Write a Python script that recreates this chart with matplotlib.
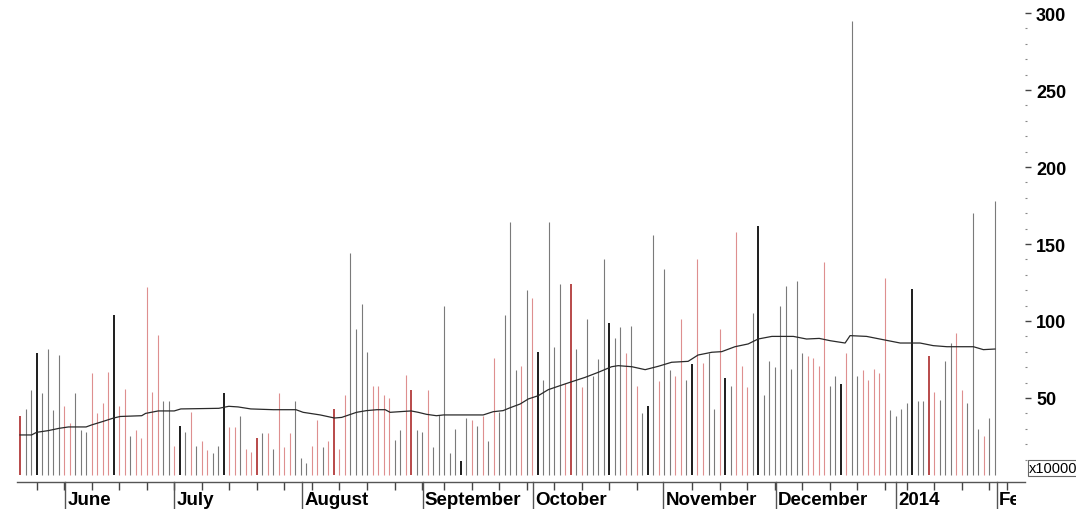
import matplotlib.pyplot as plt
import numpy as np
from matplotlib.transforms import blended_transform_factory, Bbox, TransformedBbox

plt.rcParams['font.family'] = ['Liberation Sans', 'DejaVu Sans']

# daily volume (x10000), one bar per trading day
volume = [
    38, 43, 55, 79, 53, 82, 42, 78, 45, 34,
    53, 29, 28, 66, 40, 47, 67, 104, 45, 56,
    25, 29, 24, 122, 54, 91, 48, 48, 19, 32,
    28, 41, 19, 22, 16, 14, 19, 53, 31, 31,
    38, 17, 15, 24, 27, 27, 17, 53, 18, 27,
    48, 11, 8, 19, 36, 18, 22, 43, 17, 52,
    144, 95, 111, 80, 58, 58, 52, 50, 23, 29,
    65, 55, 29, 28, 55, 18, 39, 110, 14, 30,
    9, 37, 36, 32, 38, 22, 76, 41, 104, 164,
    68, 71, 120, 115, 80, 62, 164, 83, 124, 60,
    124, 82, 57, 101, 64, 75, 140, 99, 89, 96,
    79, 97, 58, 40, 45, 156, 61, 134, 68, 64,
    101, 62, 72, 140, 73, 79, 43, 95, 63, 58,
    158, 71, 57, 105, 162, 52, 74, 70, 110, 123,
    69, 126, 79, 77, 76, 71, 138, 58, 64, 59,
    79, 295, 64, 68, 62, 69, 66, 128, 42, 38,
    43, 47, 121, 48, 48, 77, 54, 49, 74, 86,
    92, 55, 47, 170, 30, 25, 37, 178,
]

# bar colour code: g = gray, r = red, k = black, R = dark red
bar_kind = (
    "Rggkggggrr" "gggrrrrkrr" "grrrrrggrk" "grgrrggkrr" "grrRgrgrrr"
    "gggrrgrRrr" "ggggrrrrgg" "rRggrggggg" "kgrgrgrggg" "grgrkggggr"
    "Rgrggggkgg" "rgrgkgrggr" "rgkrrggrkg" "rrrgkggggg" "gggrrrrggk"
    "rggrrrrrgg" "ggkggRrggg" "rrgggrgg"
)

# moving average line (bar index, value)
ma_idx = [0, 2.1, 3, 5.1, 7.1, 8.8, 12, 13, 14.9, 17, 18.2, 22.1, 22.8, 25.1,
          28, 29.2, 36.1, 37.9, 39.6, 41.9, 46, 50.1, 51.4, 54.5, 57.1, 58.4,
          61.1, 62.9, 64.8, 66.3, 67.2, 71, 72.3, 73.8, 75.6, 76.9, 84.1,
          85.9, 87.7, 89, 90.8, 92.3, 94.1, 95.9, 97.7, 100.2, 102.6, 105,
          107.4, 108.6, 111.1, 113.5, 115.9, 118.3, 121.3, 123.1, 125.6,
          127.4, 129.8, 132.2, 134, 136.5, 138.9, 140.4, 142.8, 145.1, 147.1,
          149.8, 150.7, 153.7, 156.1, 159.8, 163.4, 165.8, 168.3, 173.1,
          174.9, 177]
ma_val = [26, 26, 27.7, 28.8, 30.3, 31.2, 31.2, 32.5, 34.6, 37, 38, 38.5, 40,
          41.6, 41.6, 42.9, 43.3, 44.6, 44.2, 42.9, 42.4, 42.4, 40.7, 39, 37,
          37.4, 40.7, 41.8, 42.4, 42.4, 40.7, 41.6, 40.7, 39.4, 38.5, 39, 39,
          41.1, 41.8, 43.7, 46.1, 49.4, 51.5, 55.4, 57.6, 60.6, 63.4, 66.7,
          70.3, 71, 70.3, 68.4, 70.6, 73.2, 73.8, 77.9, 79.7, 80.1, 83.3,
          85.1, 88.3, 90, 90, 90, 88.3, 88.7, 87.2, 85.7, 90.5, 90, 88.3,
          85.7, 85.7, 84, 83.3, 83.3, 81.4, 81.8]

week_ticks = [3, 8, 13, 18, 23, 28, 33, 38, 43, 48, 53, 58, 63, 68, 73, 77,
              82, 87, 92, 97, 102, 107, 112, 122, 127, 132, 137, 142, 147,
              152, 157, 161, 166, 171, 176, 179.2]
month_pos = [8.2, 28, 51.2, 73.1, 93.1, 116.8, 137.2, 159.1, 177.3]
month_names = ['June', 'July', 'August', 'September', 'October', 'November',
               'December', '2014', 'Feb']

colour_map = {'g': '#7a7a7a', 'r': '#de8f8f', 'k': '#1c1c1c', 'R': '#b23a3a'}
width_map = {'g': 0.8, 'r': 0.8, 'k': 1.4, 'R': 1.3}

fig = plt.figure(figsize=(10.76, 5.10), dpi=100)
ax = fig.add_axes([17 / 1076, 27 / 510, 1008 / 1076, 483 / 510])

x = np.arange(len(volume))
ax.vlines(x, 0, volume,
          colors=[colour_map[c] for c in bar_kind],
          linewidths=[width_map[c] for c in bar_kind])
ax.plot(ma_idx, ma_val, color='#2a2a2a', lw=0.9)

ax.set_xlim(-0.545, 182.46)
ax.set_ylim(-4.55, 309.1)

for side in ['top', 'left', 'right']:
    ax.spines[side].set_visible(False)
ax.spines['bottom'].set_color('#555555')
ax.spines['bottom'].set_linewidth(1)

# right-hand volume axis
ax.yaxis.tick_right()
ax.set_yticks(range(50, 301, 50))
ax.set_yticks(range(10, 301, 10), minor=True)
ax.tick_params(axis='y', which='major', length=4, width=1, color='#444444',
               pad=4, labelsize=13, labelcolor='black')
ax.tick_params(axis='y', which='minor', length=1.5, width=0.8, color='#888888')
for lbl in ax.get_yticklabels():
    lbl.set_fontweight('bold')

# weekly ticks on the date axis
ax.set_xticks(week_ticks)
ax.set_xticklabels([])
ax.tick_params(axis='x', which='major', length=5.5, width=1, color='#444444')

# month separators and labels (the last label is cut off as in the source)
trans = blended_transform_factory(ax.transData, ax.transAxes)
label_clip = TransformedBbox(Bbox([[0, 0], [1016 / 1076, 1]]), fig.transFigure)
for pos, name in zip(month_pos, month_names):
    ax.plot([pos, pos], [0, -27 / 483], transform=trans, color='#555555',
            lw=1, clip_on=False)
    t = ax.text(pos + 0.4, -22 / 483, name, transform=trans, fontsize=13.5,
                fontweight='bold', va='baseline', ha='left')
    t.set_clip_box(label_clip)
    t.set_clip_on(True)

fig.text(1029 / 1076, (510 - 469) / 510, 'x10000', fontsize=10.5,
         va='center', ha='left',
         bbox=dict(boxstyle='square,pad=0.1', fc='white', ec='#666666', lw=0.8))

fig.savefig('out.png', dpi=100)
